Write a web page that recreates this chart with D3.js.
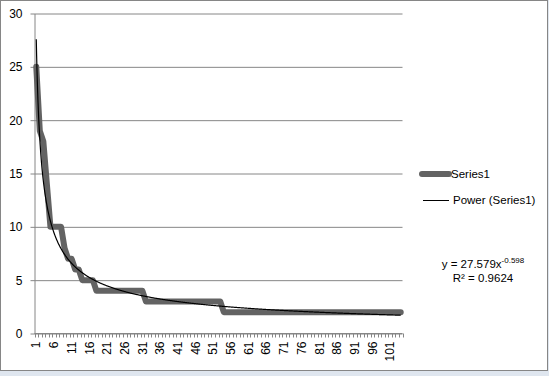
<!DOCTYPE html>
<html>
<head>
<meta charset="utf-8">
<script src="https://cdn.jsdelivr.net/npm/d3@7"></script>
<style>
    body { margin: 0; background-color: #dfe6ef; }
    svg { display: block; }
    text { font-family: "Liberation Sans", Arial, sans-serif; fill: #000; }
</style>
</head>
<body>
<div id="chart"></div>
<script>
// category labels on x are just 1..N, every 5th one is printed
const categories = d3.range(1, 105);
const tickLabels = [1, 6, 11, 16, 21, 26, 31, 36, 41, 46, 51, 56, 61, 66, 71, 76, 81, 86, 91, 96, 101];
const yTicks = [0, 5, 10, 15, 20, 25, 30];

// Series1 values
const series1 = [
    25, 19, 18, 14, 10, 10, 10, 10, 8, 7,
    7, 6, 6, 5, 5, 5, 5, 4, 4, 4,
    4, 4, 4, 4, 4, 4, 4, 4, 4, 4,
    4, 3, 3, 3, 3, 3, 3, 3, 3, 3,
    3, 3, 3, 3, 3, 3, 3, 3, 3, 3,
    3, 3, 3, 2, 2, 2, 2, 2, 2, 2,
    2, 2, 2, 2, 2, 2, 2, 2, 2, 2,
    2, 2, 2, 2, 2, 2, 2, 2, 2, 2,
    2, 2, 2, 2, 2, 2, 2, 2, 2, 2,
    2, 2, 2, 2, 2, 2, 2, 2, 2, 2,
    2, 2, 2, 2
];

// power trendline as printed on the chart
const trendA = 27.579;
const trendB = -0.598;
const trendLabel = "y = 27.579x";
const trendExp = "-0.598";
const r2Label = "R² = 0.9624";

const width = 549, height = 376;
const plotLeft = 34.5, plotRight = 402.5, plotTop = 13.5, plotBottom = 333.5;

const svg = d3.select("#chart").append("svg")
    .attr("width", width)
    .attr("height", height);

// chart area
svg.append("rect")
    .attr("x", 0.5)
    .attr("y", 0.5)
    .attr("width", 547)
    .attr("height", 370)
    .attr("fill", "#ffffff")
    .attr("stroke", "#868686");

const x = d3.scaleLinear()
    .domain([0.5, categories.length + 0.5])
    .range([plotLeft, plotRight]);

const y = d3.scaleLinear()
    .domain([0, 30])
    .range([plotBottom, plotTop]);

// gridlines + y axis
const yAxis = svg.append("g")
    .attr("transform", `translate(${plotLeft},0)`)
    .call(d3.axisLeft(y).tickValues(yTicks).tickSize(-(plotRight - plotLeft)).tickSizeOuter(0).tickFormat(d3.format("d")));
yAxis.select(".domain").attr("stroke", "#868686");
yAxis.selectAll(".tick line")
    .attr("stroke", "#868686")
    .attr("x1", -4);
yAxis.selectAll(".tick text")
    .attr("x", -12)
    .style("font-size", "12px")
    .style("font-family", "\"Liberation Sans\", Arial, sans-serif")
    .attr("fill", "#000");

// x axis, tick marks between categories
const xg = svg.append("g")
    .attr("transform", `translate(0,${plotBottom})`);
xg.append("line")
    .attr("x1", plotLeft)
    .attr("x2", plotRight)
    .attr("stroke", "#868686");
xg.selectAll(".xtick")
    .data(d3.range(0, categories.length + 1))
    .join("line")
    .attr("class", "xtick")
    .attr("x1", (d) => Math.round(x(d + 0.5)) + 0.5)
    .attr("x2", (d) => Math.round(x(d + 0.5)) + 0.5)
    .attr("y1", 0)
    .attr("y2", 4)
    .attr("stroke", "#868686");
xg.selectAll(".xlabel")
    .data(tickLabels)
    .join("text")
    .attr("class", "xlabel")
    .attr("transform", (d) => `translate(${x(d)},8) rotate(-90)`)
    .attr("text-anchor", "end")
    .attr("dy", "0.35em")
    .style("font-size", "12px")
    .text((d) => d);

// Series1 thick line
const line = d3.line()
    .x((d, i) => x(categories[i]))
    .y((d) => y(d));

svg.append("path")
    .datum(series1)
    .attr("d", line)
    .attr("fill", "none")
    .attr("stroke", "#636363")
    .attr("stroke-width", 6)
    .attr("stroke-linejoin", "round")
    .attr("stroke-linecap", "round");

// trendline over the category range
const trendPts = d3.range(1, categories.length + 0.001, 0.1).map((t) => [t, trendA * Math.pow(t, trendB)]);
svg.append("path")
    .datum(trendPts)
    .attr("d", d3.line().x((d) => x(d[0])).y((d) => y(d[1])))
    .attr("fill", "none")
    .attr("stroke", "#000000")
    .attr("stroke-width", 1.2);

// legend
const legend = svg.append("g");
legend.append("line")
    .attr("x1", 422).attr("x2", 449)
    .attr("y1", 174).attr("y2", 174)
    .attr("stroke", "#636363")
    .attr("stroke-width", 6)
    .attr("stroke-linecap", "round");
legend.append("text")
    .attr("x", 451)
    .attr("y", 178)
    .style("font-size", "11.5px")
    .text("Series1");
legend.append("line")
    .attr("x1", 423).attr("x2", 449)
    .attr("y1", 200.5).attr("y2", 200.5)
    .attr("stroke", "#000")
    .attr("stroke-width", 1);
legend.append("text")
    .attr("x", 453)
    .attr("y", 204)
    .style("font-size", "11.5px")
    .text("Power (Series1)");

// equation label
const eq = svg.append("text")
    .attr("x", 483)
    .attr("y", 268)
    .attr("text-anchor", "middle")
    .style("font-size", "11.5px");
eq.append("tspan").text(trendLabel);
eq.append("tspan")
    .attr("dy", -5)
    .style("font-size", "8px")
    .text(trendExp);
svg.append("text")
    .attr("x", 483)
    .attr("y", 282)
    .attr("text-anchor", "middle")
    .style("font-size", "11.5px")
    .text(r2Label);
</script>
</body>
</html>
